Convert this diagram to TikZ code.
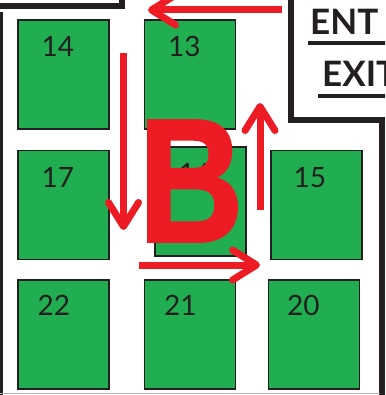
\documentclass[tikz,border=0pt]{standalone}
\usepackage{fontspec}
\setmainfont{Lato}
\newfontfamily\bigletter[FakeBold=1.6, FakeStretch=0.82]{Liberation Sans Bold}
\usetikzlibrary{arrows.meta,positioning}
\definecolor{stallgreen}{HTML}{21AE50}
\definecolor{routered}{HTML}{ED1C24}
\definecolor{walldark}{HTML}{231F20}
\tikzset{
  stall/.style={draw=walldark, line width=1.2pt, fill=stallgreen,
    minimum width=91pt, minimum height=109pt, inner sep=0pt},
  stallnum/.style={font=\fontsize{28}{28}\selectfont, text=walldark, inner sep=0pt},
  wall/.style={draw=walldark, line width=6pt},
  route/.style={draw=routered, line width=7pt,
    -{Straight Barb[length=24pt, width=30pt, round]}},
  sign/.style={font=\bfseries\fontsize{35}{35}\selectfont, text=walldark, inner sep=0pt}
}
\begin{document}
\begin{tikzpicture}[x=1pt, y=-1pt]
  \clip (0,0) rectangle (385,395);
  \fill[white] (0,0) rectangle (385,395);
  % stalls
  \foreach \n/\x/\y/\dx/\dy in {14/63.5/74.5/24/17, 13/190/74.5/24/17,
      17/63.5/205/24/17, 16/200.5/201.5/24/17, 15/316.5/205/23/17,
      22/63.5/334.5/20/16, 21/190/334.5/20/16, 20/314/334.5/19/16}
  {
    \node[stall] (b\n) at (\x,\y) {};
    \node[stallnum, below right=\dy pt and \dx pt of b\n.north west] (n\n) {\n};
  }
  % walls
  \draw[wall] (0,6) -- (122,6) -- (122,-5);
  \draw[wall, line width=3pt] (1.5,12) -- (1.5,400);
  \draw[wall] (291,-5) -- (291,120) -- (382,120) -- (382,400);
  \draw[gray!60, line width=1pt] (0,393.5) -- (380,393.5);
  % sign
  \node[sign, anchor=base west] (entry) at (310,35) {ENT};
  \node[sign, anchor=base west] (exit) at (322,87) {EXIT};
  \draw[walldark, line width=3.5pt] ([xshift=-2pt, yshift=-8pt]entry.base west) -- ++(90,0);
  \draw[walldark, line width=3.5pt] ([xshift=-4pt, yshift=-9pt]exit.base west) -- ++(90,0);
  % route
  \draw[route] (282,10) -- (148,10);
  \draw[route] (123.5,53) -- (123.5,230);
  \draw[route] (139,265) -- (260,265);
  \draw[route] (260,210) -- (260,103);
  \node[text=routered, inner sep=0pt,
    font=\bigletter\fontsize{176}{176}\selectfont] (bigB) at (191,181) {B};
\end{tikzpicture}
\end{document}
